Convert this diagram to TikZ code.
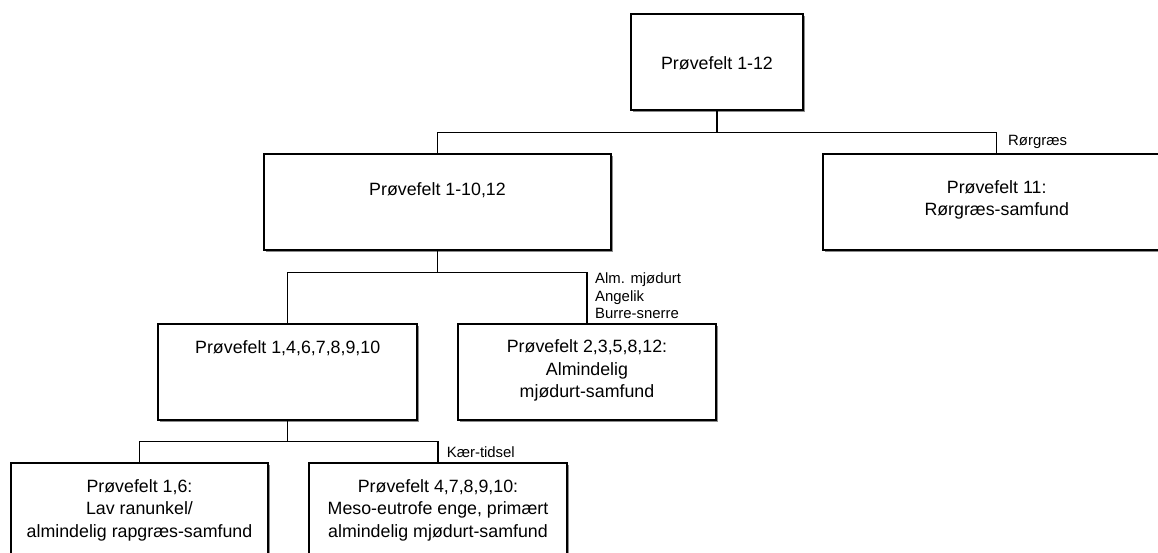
\documentclass[tikz,border=0pt]{standalone}
\usepackage{fontspec}
\setmainfont{Liberation Sans}
\usetikzlibrary{shadows}
\begin{document}
\begin{tikzpicture}[x=1pt,y=-1pt,
  box/.style={draw=black, line width=1.5pt, fill=white, rectangle, inner sep=0pt,
    drop shadow={shadow xshift=2.2pt, shadow yshift=-2.2pt, fill=black!45, opacity=1}},
  conn/.style={draw=black, line width=1.5pt},
  maintext/.style={inner sep=0pt, align=center, font=\fontsize{17.8}{22.5}\selectfont},
  lbl/.style={inner sep=0pt, align=left, anchor=west, font=\fontsize{14.9}{17.5}\selectfont}]
\clip (0,0) rectangle (1158,553);
\fill[white] (0,0) rectangle (1158,553);

% boxes
\node[box, minimum width=172, minimum height=96] (A) at (717,62) {};
\node[box, minimum width=347, minimum height=96] (B) at (437.5,202) {};
\node[box, minimum width=347, minimum height=96] (G) at (996.7,202) {};
\node[box, minimum width=259, minimum height=96] (C) at (287.7,372) {};
\node[box, minimum width=258, minimum height=96] (D) at (587,372) {};
\node[box, minimum width=257, minimum height=100] (E) at (139.5,513) {};
\node[box, minimum width=258, minimum height=100] (F) at (438,513) {};

% texts
\node[maintext] (tA) at (717,63) {Prøvefelt 1-12};
\node[maintext] (tB) at (437.5,190) {Prøvefelt 1-10,12};
\node[maintext] (tG) at (996.7,200) {Prøvefelt 11:\\Rørgræs-samfund};
\node[maintext] (tC) at (287.7,348) {Prøvefelt 1,4,6,7,8,9,10};
\node[maintext] (tD) at (587,370.5) {Prøvefelt 2,3,5,8,12:\\Almindelig\\mjødurt-samfund};
\node[maintext] (tE) at (139.5,510) {Prøvefelt 1,6:\\Lav ranunkel/\\almindelig rapgræs-samfund};
\node[maintext] (tF) at (438,510) {Prøvefelt 4,7,8,9,10:\\Meso-eutrofe enge, primært\\almindelig mjødurt-samfund};

% junctions
\coordinate (jA) at (717,132.7);
\coordinate (jB) at (437.5,272.7);
\coordinate (jC) at (287.7,441.7);

% connectors
\draw[conn] (A.south) -- (jA);
\draw[conn] (B.north) |- (jA) -| (G.north);
\draw[conn] (B.south) -- (jB);
\draw[conn] (C.north) |- (jB) -| (D.north);
\draw[conn] (C.south) -- (jC);
\draw[conn] (E.north) |- (jC) -| (F.north);

% labels
\node[lbl] (lG) at (1008,141.7) {Rørgræs};
\node[lbl] (lD) at (595,295.8) {Alm. mjødurt\\Angelik\\Burre-snerre};
\node[lbl] (lF) at (446.7,451.7) {Kær-tidsel};
\end{tikzpicture}
\end{document}
